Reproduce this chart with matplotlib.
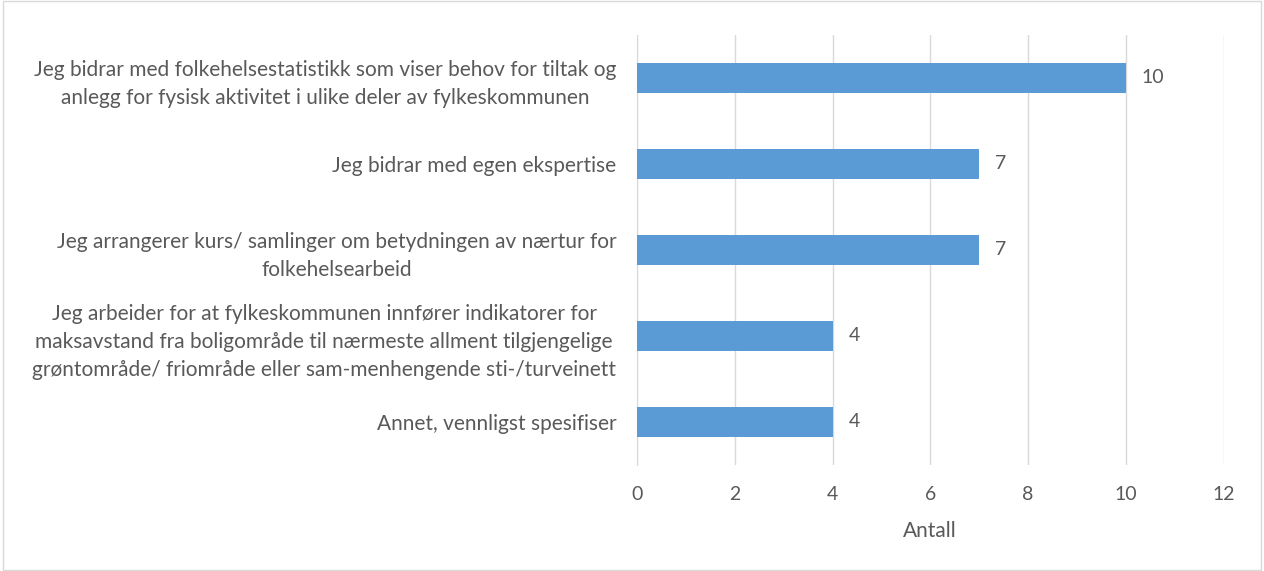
import matplotlib.pyplot as plt

# Categories (top to bottom) and counts
categories = [
    "Jeg bidrar med folkehelsestatistikk som viser behov for tiltak og\nanlegg for fysisk aktivitet i ulike deler av fylkeskommunen",
    "Jeg bidrar med egen ekspertise",
    "Jeg arrangerer kurs/ samlinger om betydningen av nærtur for\nfolkehelsearbeid",
    "Jeg arbeider for at fylkeskommunen innfører indikatorer for\nmaksavstand fra boligområde til nærmeste allment tilgjengelige\ngrøntområde/ friområde eller sam-menhengende sti-/turveinett",
    "Annet, vennligst spesifiser",
]
counts = [10, 7, 7, 4, 4]
x_ticks = [0, 2, 4, 6, 8, 10, 12]

plt.rcParams["font.family"] = ["Lato", "DejaVu Sans"]
text_color = "#595959"

fig = plt.figure(figsize=(12.64, 5.71), dpi=100)
ax = fig.add_axes([0.504, 0.186, 0.464, 0.753])

ypos = list(range(len(categories)))
ax.barh(ypos, counts, height=0.35, color="#5B9BD5", zorder=3)

for y, v in zip(ypos, counts):
    ax.text(v + 0.33, y, str(v), va="center", ha="left", fontsize=14, color=text_color)

ax.set_xlim(0, 12)
ax.set_ylim(4.5, -0.5)
ax.set_xticks(x_ticks)
ax.set_xticklabels([str(t) for t in x_ticks], fontsize=14, color=text_color)
ax.set_yticks(ypos)
ax.set_yticklabels(categories, fontsize=15, color=text_color, linespacing=1.5,
                   multialignment="center")
ax.tick_params(axis="both", length=0)
ax.tick_params(axis="y", pad=15)
ax.tick_params(axis="x", pad=15)
ax.grid(axis="x", color="#D9D9D9", linewidth=1, zorder=0)
for s in ["top", "right", "bottom"]:
    ax.spines[s].set_visible(False)
ax.spines["left"].set_color("#D9D9D9")
ax.set_xlabel("Antall", fontsize=15, color=text_color, labelpad=13)

# light frame around the chart area
fig.patches.append(plt.Rectangle((0.002, 0.002), 0.996, 0.996, transform=fig.transFigure,
                                 fill=False, edgecolor="#D9D9D9", linewidth=1))

fig.savefig("out.png", dpi=100)
